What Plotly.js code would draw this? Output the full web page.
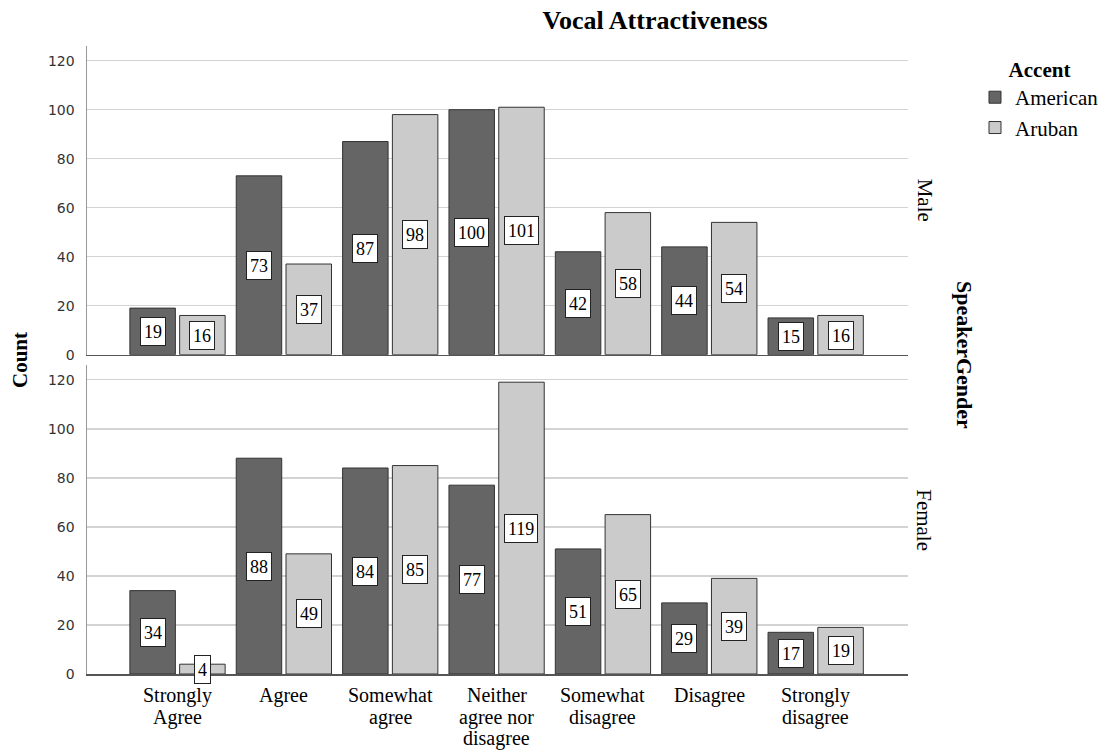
<!DOCTYPE html>
<html>
<head>
<meta charset="utf-8">
<script src="https://cdn.plot.ly/plotly-3.0.1.min.js"></script>
<style>
  html, body { margin: 0; padding: 0; background: #fff; }
  #chart { width: 1106px; height: 754px; }
</style>
</head>
<body>
<div id="chart"></div>
<script>
// ---- data ----
const categories = ['Strongly Agree', 'Agree', 'Somewhat agree', 'Neither agree nor disagree', 'Somewhat disagree', 'Disagree', 'Strongly disagree'];
const tickLabels = ['Strongly<br>Agree', 'Agree', 'Somewhat<br>agree', 'Neither<br>agree nor<br>disagree', 'Somewhat<br>disagree', 'Disagree', 'Strongly<br>disagree'];
const seriesNames = ['American', 'Aruban'];
const maleAmerican   = [19, 73, 87, 100, 42, 44, 15];
const maleAruban     = [16, 37, 98, 101, 58, 54, 16];
const femaleAmerican = [34, 88, 84, 77, 51, 29, 17];
const femaleAruban   = [4, 49, 85, 119, 65, 39, 19];
const yTickVals = [0, 20, 40, 60, 80, 100, 120];

// ---- style ----
const SERIF = 'Liberation Serif, Times New Roman, serif';
const SANS = 'DejaVu Sans, sans-serif';
const colors = ['#656565', '#cbcbcb'];
const BARGAP = 0.064, BARGROUPGAP = 0.086;
const plotWidth = 1106 - 87 - 198;
const xRange = [-0.851, 6.868];
const catPx = plotWidth / (xRange[1] - xRange[0]);
const slotPx = catPx * (1 - BARGAP) / 2;
const CAT_FONT = 20, CAT_LINE = 21.5, CAT_OFFSET = 9;

function barTrace(name, vals, idx, xa, ya, showlegend) {
  return {
    type: 'bar', name: name, x: categories, y: vals, xaxis: xa, yaxis: ya,
    legendgroup: name, showlegend: showlegend,
    marker: { color: colors[idx], line: { color: '#333', width: 1 } },
    hoverinfo: 'x+y+name'
  };
}

const data = [
  barTrace(seriesNames[0], femaleAmerican, 0, 'x', 'y', true),
  barTrace(seriesNames[1], femaleAruban, 1, 'x', 'y', true),
  barTrace(seriesNames[0], maleAmerican, 0, 'x2', 'y2', false),
  barTrace(seriesNames[1], maleAruban, 1, 'x2', 'y2', false)
];

const annotations = [];
function addLabels(vals, idx, xref, yref) {
  vals.forEach((v, i) => {
    annotations.push({
      x: categories[i], y: v / 2, xref: xref, yref: yref,
      xshift: (idx === 0 ? -1 : 1) * slotPx / 2,
      text: String(v), showarrow: false,
      font: { family: SERIF, size: 18, color: '#000' },
      bgcolor: '#ffffff', bordercolor: '#222', borderwidth: 1, borderpad: 3, height: 21,
      xanchor: 'center', yanchor: 'middle'
    });
  });
}
addLabels(femaleAmerican, 0, 'x', 'y');
addLabels(femaleAruban, 1, 'x', 'y');
addLabels(maleAmerican, 0, 'x2', 'y2');
addLabels(maleAruban, 1, 'x2', 'y2');

// category labels (one annotation per line, tight line spacing as in the reference)
tickLabels.forEach((lbl, i) => {
  lbl.split('<br>').forEach((line, j) => {
    annotations.push({
      x: categories[i], y: 0, xref: 'x', yref: 'y', yanchor: 'top', xanchor: 'center',
      yshift: -(CAT_OFFSET + j * CAT_LINE), text: line, showarrow: false,
      font: { family: SERIF, size: CAT_FONT, color: '#000' }, borderpad: 0
    });
  });
});

// side labels
annotations.push(
  { text: 'Count', xref: 'paper', yref: 'paper', x: -0.0816, y: 0.5, showarrow: false, textangle: -90,
    font: { family: SERIF, size: 21, color: '#000', weight: 'bold' }, xanchor: 'center', yanchor: 'middle' },
  { text: 'Male', xref: 'paper', yref: 'paper', x: 1.0201, y: 0.7545, showarrow: false, textangle: 90,
    font: { family: SERIF, size: 21, color: '#000' }, xanchor: 'center', yanchor: 'middle' },
  { text: 'Female', xref: 'paper', yref: 'paper', x: 1.0201, y: 0.2457, showarrow: false, textangle: 90,
    font: { family: SERIF, size: 21, color: '#000' }, xanchor: 'center', yanchor: 'middle' },
  { text: 'SpeakerGender', xref: 'paper', yref: 'paper', x: 1.0682, y: 0.508, showarrow: false, textangle: 90,
    font: { family: SERIF, size: 22, color: '#000', weight: 'bold' }, xanchor: 'center', yanchor: 'middle' }
);

const yCommon = {
  range: [0, 126], tickvals: yTickVals, showgrid: true, gridcolor: '#d3d3d3', gridwidth: 1.5,
  zeroline: false, showline: true, linecolor: '#999', linewidth: 1.5,
  tickfont: { family: SANS, size: 14, color: '#333' }, ticks: '', ticklabelstandoff: 8, fixedrange: true
};

const layout = {
  width: 1106, height: 754,
  margin: { l: 87, r: 198, t: 46, b: 80, autoexpand: false },
  paper_bgcolor: '#ffffff', plot_bgcolor: '#ffffff',
  barmode: 'group', bargap: BARGAP, bargroupgap: BARGROUPGAP,
  title: {
    text: 'Vocal Attractiveness', xref: 'paper', x: 0.692, xanchor: 'center',
    yref: 'container', y: 0.9735, yanchor: 'middle',
    font: { family: SERIF, size: 26, color: '#000', weight: 'bold' }
  },
  xaxis: {
    anchor: 'y', type: 'category', range: xRange, tickvals: categories, showticklabels: false,
    showline: true, linecolor: '#555', linewidth: 1.5, showgrid: false, ticks: '', fixedrange: true
  },
  xaxis2: {
    anchor: 'y2', matches: 'x', type: 'category', range: xRange, showticklabels: false,
    showline: true, linecolor: '#555', linewidth: 1.5, showgrid: false, ticks: '', fixedrange: true
  },
  yaxis: Object.assign({}, yCommon, { domain: [0, 0.492], anchor: 'x' }),
  yaxis2: Object.assign({}, yCommon, { domain: [0.5085, 1], anchor: 'x2' }),
  legend: {
    x: 1.0816, xanchor: 'left', y: 0.994, yanchor: 'top',
    title: { text: 'Accent', side: 'top center', font: { family: SERIF, size: 21, color: '#000', weight: 'bold' } },
    font: { family: SERIF, size: 21, color: '#000' },
    traceorder: 'normal', bgcolor: 'rgba(0,0,0,0)', tracegroupgap: 0
  },
  annotations: annotations,
  showlegend: true
};

Plotly.newPlot('chart', data, layout, { displayModeBar: false, staticPlot: true });
</script>
</body>
</html>
